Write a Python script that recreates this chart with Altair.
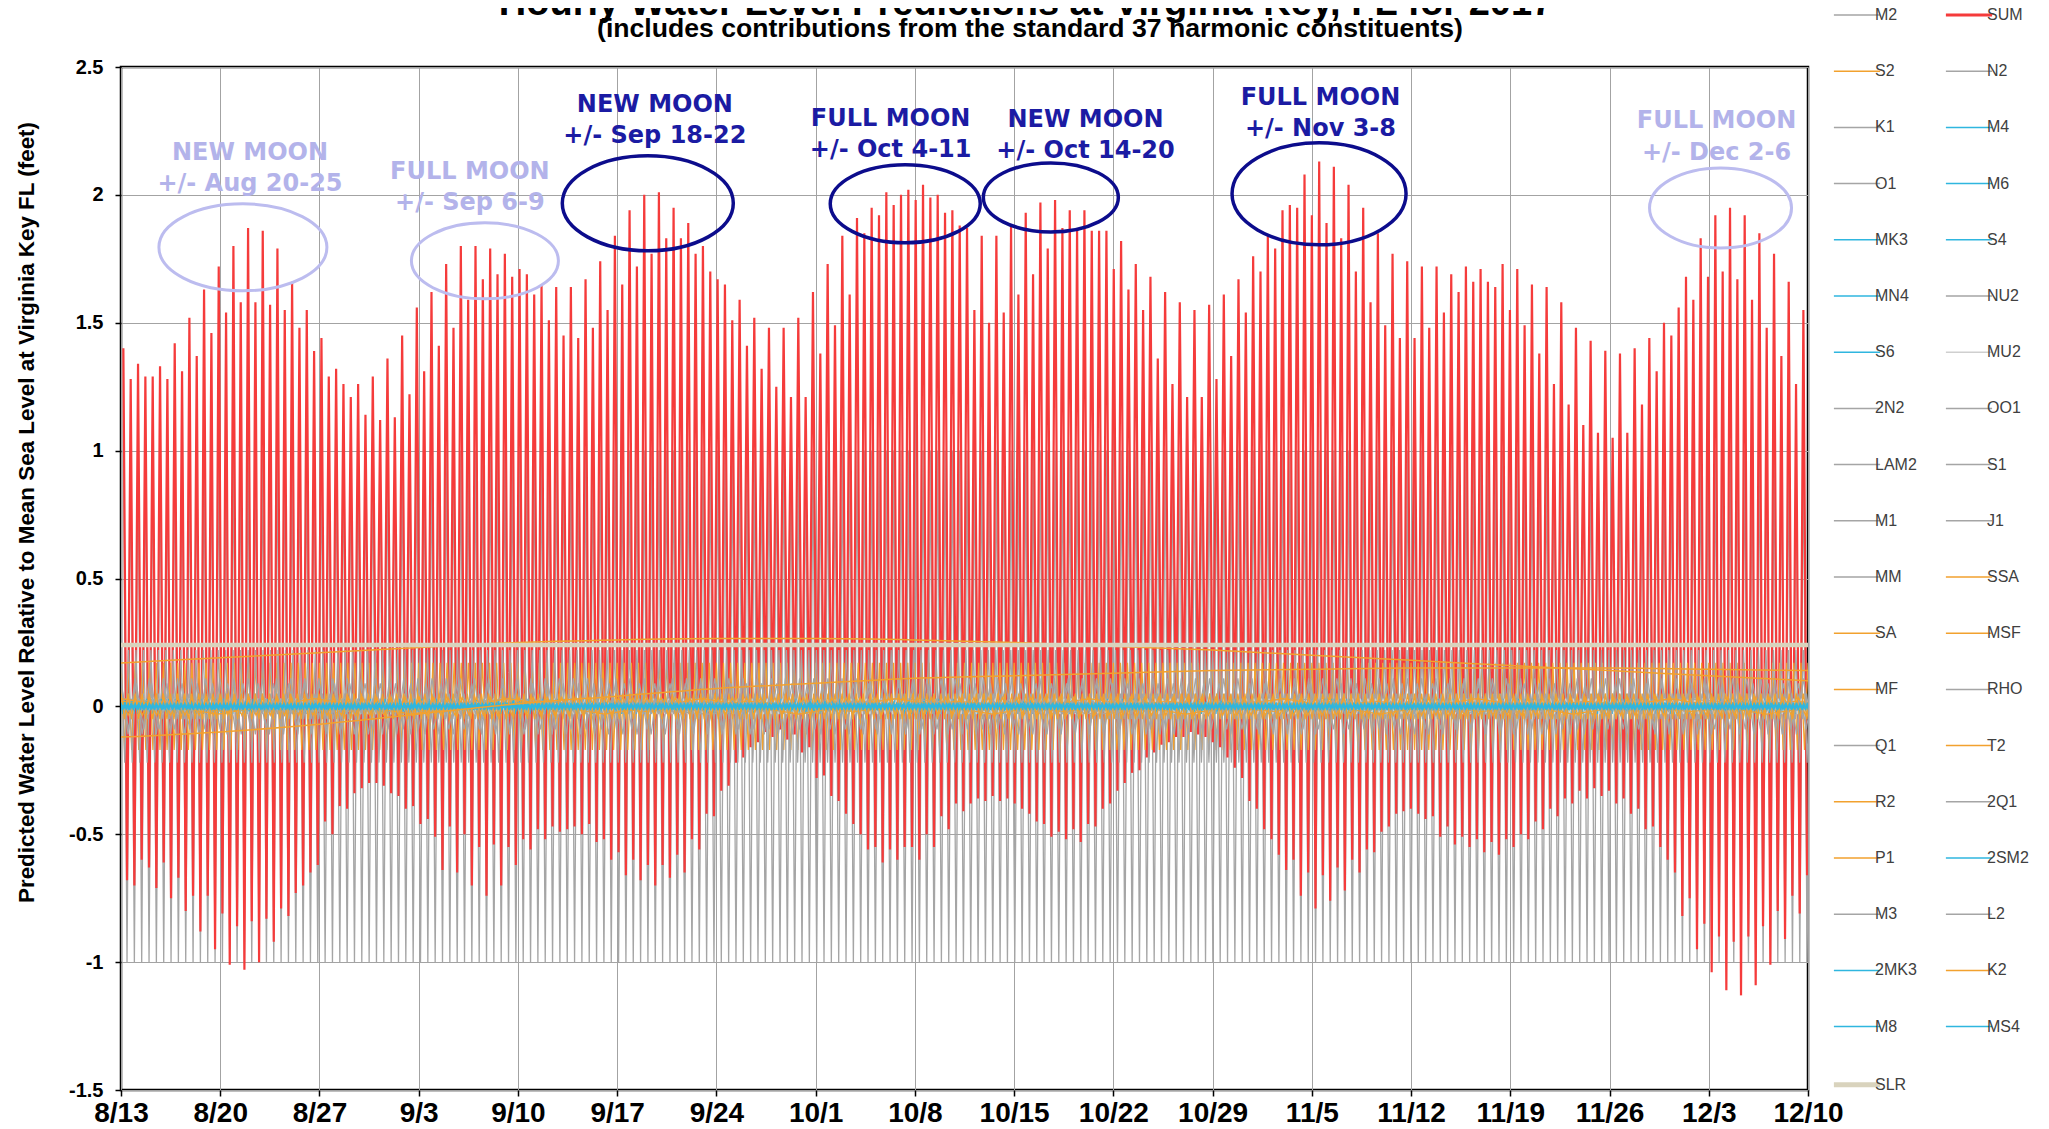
import altair as alt
import pandas as pd

# ---------------------------------------------------------------- data
SERIES = ["M2", "SUM", "S2", "N2", "K1", "M4", "O1", "M6", "MK3", "S4", "MN4", "NU2",
          "S6", "MU2", "2N2", "OO1", "LAM2", "S1", "M1", "J1", "MM", "SSA", "SA", "MSF",
          "MF", "RHO", "Q1", "T2", "R2", "2Q1", "P1", "2SM2", "M3", "L2", "2MK3", "K2",
          "M8", "MS4", "SLR"]

# predicted total (SUM): successive high waters (ft), one per tidal cycle, 8/13 -> 12/10
SUM_HIGHS = [
    1.40, 1.28, 1.34, 1.29, 1.29, 1.33, 1.28, 1.42, 1.31, 1.52,
    1.37, 1.63, 1.46, 1.72, 1.54, 1.80, 1.58, 1.87, 1.58, 1.86,
    1.57, 1.79, 1.55, 1.66, 1.48, 1.55, 1.39, 1.44, 1.29, 1.32,
    1.26, 1.21, 1.26, 1.14, 1.29, 1.12, 1.36, 1.13, 1.45, 1.22,
    1.56, 1.31, 1.62, 1.41, 1.73, 1.48, 1.80, 1.59, 1.80, 1.67,
    1.79, 1.69, 1.77, 1.68, 1.71, 1.69, 1.61, 1.65, 1.51, 1.64,
    1.45, 1.64, 1.44, 1.67, 1.48, 1.74, 1.55, 1.84, 1.65, 1.94,
    1.72, 2.00, 1.77, 2.01, 1.83, 1.95, 1.83, 1.89, 1.77, 1.80,
    1.70, 1.67, 1.65, 1.51, 1.59, 1.41, 1.52, 1.32, 1.48, 1.25,
    1.48, 1.21, 1.52, 1.21, 1.62, 1.38, 1.73, 1.49, 1.84, 1.61,
    1.91, 1.85, 1.95, 1.92, 2.01, 1.96, 2.00, 2.02, 1.98, 2.04,
    1.99, 2.00, 1.93, 1.94, 1.88, 1.87, 1.55, 1.84, 1.50, 1.84,
    1.54, 1.88, 1.61, 1.93, 1.69, 1.97, 1.79, 1.98, 1.87, 1.94,
    1.87, 1.94, 1.86, 1.86, 1.86, 1.71, 1.82, 1.63, 1.73, 1.55,
    1.68, 1.36, 1.62, 1.26, 1.58, 1.21, 1.55, 1.21, 1.57, 1.28,
    1.61, 1.37, 1.67, 1.54, 1.76, 1.70, 1.84, 1.79, 1.94, 1.96,
    1.95, 2.08, 1.92, 2.13, 1.89, 2.11, 1.83, 2.04, 1.70, 1.95,
    1.58, 1.85, 1.49, 1.77, 1.44, 1.74, 1.44, 1.72, 1.48, 1.72,
    1.54, 1.69, 1.62, 1.72, 1.66, 1.71, 1.66, 1.64, 1.73, 1.55,
    1.71, 1.49, 1.65, 1.38, 1.64, 1.26, 1.58, 1.18, 1.48, 1.10,
    1.43, 1.07, 1.39, 1.05, 1.38, 1.07, 1.40, 1.18, 1.44, 1.31,
    1.50, 1.45, 1.56, 1.68, 1.59, 1.83, 1.68, 1.92, 1.70, 1.95,
    1.67, 1.92, 1.59, 1.85, 1.48, 1.77, 1.37, 1.66, 1.26, 1.55,
]
# predicted total (SUM): successive low waters (ft)
SUM_LOWS = [
    -0.68, -0.70, -0.60, -0.63, -0.71, -0.61, -0.75, -0.67, -0.80, -0.74,
    -0.88, -0.74, -0.95, -0.81, -1.01, -0.86, -1.03, -0.84, -1.00, -0.83,
    -0.92, -0.79, -0.82, -0.73, -0.70, -0.65, -0.62, -0.45, -0.50, -0.39,
    -0.40, -0.34, -0.32, -0.30, -0.30, -0.31, -0.34, -0.35, -0.40, -0.39,
    -0.46, -0.44, -0.51, -0.64, -0.47, -0.65, -0.50, -0.70, -0.55, -0.74,
    -0.54, -0.70, -0.55, -0.62, -0.52, -0.56, -0.48, -0.52, -0.47, -0.49,
    -0.48, -0.47, -0.50, -0.46, -0.53, -0.52, -0.60, -0.57, -0.66, -0.60,
    -0.68, -0.62, -0.70, -0.62, -0.67, -0.58, -0.65, -0.52, -0.56, -0.42,
    -0.43, -0.33, -0.31, -0.22, -0.20, -0.16, -0.14, -0.10, -0.12, -0.09,
    -0.13, -0.11, -0.18, -0.16, -0.28, -0.27, -0.35, -0.37, -0.42, -0.46,
    -0.50, -0.56, -0.55, -0.61, -0.56, -0.60, -0.55, -0.55, -0.60, -0.50,
    -0.55, -0.43, -0.48, -0.38, -0.41, -0.38, -0.36, -0.37, -0.35, -0.37,
    -0.36, -0.38, -0.40, -0.42, -0.45, -0.46, -0.51, -0.49, -0.52, -0.48,
    -0.53, -0.46, -0.47, -0.40, -0.38, -0.33, -0.30, -0.26, -0.25, -0.20,
    -0.18, -0.15, -0.14, -0.12, -0.12, -0.10, -0.11, -0.12, -0.14, -0.16,
    -0.20, -0.24, -0.28, -0.37, -0.40, -0.48, -0.52, -0.58, -0.64, -0.60,
    -0.74, -0.65, -0.79, -0.66, -0.76, -0.63, -0.72, -0.60, -0.65, -0.56,
    -0.57, -0.49, -0.47, -0.42, -0.41, -0.40, -0.42, -0.44, -0.43, -0.51,
    -0.47, -0.54, -0.51, -0.55, -0.52, -0.57, -0.53, -0.58, -0.52, -0.55,
    -0.50, -0.52, -0.45, -0.48, -0.40, -0.43, -0.36, -0.38, -0.33, -0.36,
    -0.32, -0.35, -0.33, -0.38, -0.36, -0.42, -0.40, -0.48, -0.47, -0.55,
    -0.60, -0.65, -0.82, -0.75, -0.95, -0.85, -1.04, -0.90, -1.11, -0.92,
    -1.13, -0.90, -1.09, -0.86, -1.01, -0.80, -0.91, -0.74, -0.81, -0.66,
]
SUM_FIRST_HIGH_H = 4.0      # hours after 8/13 00:00
TIDE_PERIOD_H = 12.42

# oscillating constituents: amplitude (ft), period (hours)
OSC_NAMES = ["M2", "S2", "N2", "K1", "M4", "O1", "M6", "MK3", "S4", "MN4", "NU2", "S6",
             "MU2", "2N2", "OO1", "LAM2", "S1", "M1", "J1", "MM", "MSF", "MF", "RHO",
             "Q1", "T2", "R2", "2Q1", "P1", "2SM2", "M3", "L2", "2MK3", "K2", "M8", "MS4"]
OSC_AMP = [1.00, 0.17, 0.22, 0.11, 0.03, 0.09, 0.02, 0.01, 0.01, 0.012, 0.05, 0.005,
           0.03, 0.03, 0.005, 0.01, 0.01, 0.006, 0.007, 0.03, 0.02, 0.03, 0.004,
           0.02, 0.01, 0.003, 0.003, 0.035, 0.006, 0.006, 0.02, 0.01, 0.05, 0.004, 0.015]
OSC_PERIOD_H = [12.4206, 12.0, 12.6583, 23.9345, 6.2103, 25.8193, 4.1402, 8.1771, 6.0,
                6.2692, 12.6260, 4.0, 12.8718, 12.9054, 22.3061, 12.2218, 24.0, 24.8412,
                23.0985, 661.31, 354.37, 327.86, 26.7231, 26.8684, 12.0164, 11.9836,
                28.0062, 24.0659, 11.6070, 8.2804, 12.1916, 8.3863, 11.9672, 3.1052, 5.9975]

# slow seasonal terms read weekly (8/13, 8/20, ..., 12/10)
SA_WEEKLY = [0.17, 0.19, 0.21, 0.23, 0.25, 0.26, 0.265, 0.265, 0.26, 0.25, 0.235,
             0.22, 0.20, 0.18, 0.16, 0.14, 0.12, 0.10]
SSA_WEEKLY = [-0.12, -0.10, -0.07, -0.03, 0.01, 0.04, 0.07, 0.09, 0.11, 0.12, 0.13,
              0.14, 0.145, 0.15, 0.15, 0.15, 0.145, 0.14]
SLR_LEVEL = 0.24

TICK_LABELS = ["8/13", "8/20", "8/27", "9/3", "9/10", "9/17", "9/24", "10/1", "10/8",
               "10/15", "10/22", "10/29", "11/5", "11/12", "11/19", "11/26", "12/3", "12/10"]
Y_TICKS = [-1.5, -1, -0.5, 0, 0.5, 1, 1.5, 2, 2.5]

# moon annotations
MOON_LINE1 = ["NEW MOON", "FULL MOON", "NEW MOON", "FULL MOON", "NEW MOON", "FULL MOON", "FULL MOON"]
MOON_LINE2 = ["+/- Aug 20-25", "+/- Sep 6-9", "+/- Sep 18-22", "+/- Oct 4-11",
              "+/- Oct 14-20", "+/- Nov 3-8", "+/- Dec 2-6"]
MOON_TONE = ["light", "light", "dark", "dark", "dark", "dark", "light"]
MOON_TEXT_DAY = [9.10, 24.61, 37.66, 54.29, 68.04, 84.61, 112.55]
MOON_TEXT_L1 = [2.162, 2.091, 2.352, 2.296, 2.292, 2.378, 2.287]
MOON_TEXT_L2 = [2.044, 1.970, 2.230, 2.175, 2.172, 2.259, 2.165]
MOON_RING_DAY = [8.60, 25.67, 37.16, 55.32, 65.59, 84.51, 112.83]
MOON_RING_LEVEL = [1.795, 1.742, 1.967, 1.965, 1.990, 2.004, 1.949]

TITLE = "Hourly Water Level Predictions at Virginia Key, FL for 2017"
SUBTITLE = "(includes contributions from the standard 37 harmonic constituents)"
Y_TITLE = "Predicted Water Level Relative to Mean Sea Level at Virginia Key FL (feet)"

# ---------------------------------------------------------------- styles
GRAY, LGRAY, ORANGE, CYAN, RED, SLRC = "#a5a5a5", "#cfcfcf", "#f2a12e", "#2fb6df", "#f53b3b", "#d9d3bd"
ORANGE_SET = {"S2", "SSA", "SA", "MSF", "MF", "T2", "R2", "P1", "K2"}
CYAN_SET = {"M4", "M6", "MK3", "S4", "MN4", "S6", "2SM2", "2MK3", "M8", "MS4"}


def colour(s):
    if s == "SUM":
        return RED
    if s == "SLR":
        return SLRC
    if s == "MU2":
        return LGRAY
    if s in ORANGE_SET:
        return ORANGE
    if s in CYAN_SET:
        return CYAN
    return GRAY


# the legend fills column by column: take the row-wise reference order and transpose it
LEGEND_ORDER = SERIES[0::2] + SERIES[1::2]

RING_PX = [(168, 87), (147, 76), (171, 95), (150, 78), (135, 69), (174, 102), (142, 80)]
RING_REF = 180.0
DARK_BLUE, DARK_RING, LIGHT_BLUE, LIGHT_RING = "#1b1ba3", "#0c0c8c", "#b3b3ea", "#bcbcef"
FONT = "Liberation Sans"
NARROW = "Liberation Sans Narrow, Arial Narrow, Liberation Sans, sans-serif"

# ---------------------------------------------------------------- build tables
HOUR_MS = 3_600_000
START_MS = int(pd.Timestamp("2017-08-13", tz="UTC").timestamp() * 1000)
SPAN_H = 119 * 24


def t_ms(h):
    return START_MS + int(round(h * HOUR_MS))


sum_rows = []
for i, (hi, lo) in enumerate(zip(SUM_HIGHS, SUM_LOWS)):
    sum_rows.append({"t": t_ms(SUM_FIRST_HIGH_H + i * TIDE_PERIOD_H), "v": hi, "series": "SUM"})
    sum_rows.append({"t": t_ms(SUM_FIRST_HIGH_H + (i + 0.5) * TIDE_PERIOD_H), "v": lo, "series": "SUM"})
sum_df = pd.DataFrame(sum_rows)


def turning_points(name, amp, period_h, first_h):
    rows, k = [], 0
    while True:
        h = first_h + k * period_h / 2.0
        rows.append({"t": t_ms(h), "v": round(amp if k % 2 == 0 else -amp, 4), "series": name})
        if h > SPAN_H:
            break
        k += 1
    return rows


m2_rows, osc_rows = [], []
for name, amp, per in zip(OSC_NAMES, OSC_AMP, OSC_PERIOD_H):
    if name == "M2":
        m2_rows = turning_points(name, amp, per, SUM_FIRST_HIGH_H)
    else:
        osc_rows += turning_points(name, amp, per, 0.0)
m2_df = pd.DataFrame(m2_rows)
osc_df = pd.DataFrame(osc_rows)

slow_rows = []
for k, (sa, ssa) in enumerate(zip(SA_WEEKLY, SSA_WEEKLY)):
    slow_rows.append({"t": t_ms(k * 7 * 24), "v": sa, "series": "SA"})
    slow_rows.append({"t": t_ms(k * 7 * 24), "v": ssa, "series": "SSA"})
slow_df = pd.DataFrame(slow_rows)

slr_df = pd.DataFrame({"t": [t_ms(0), t_ms(SPAN_H)], "v": [SLR_LEVEL, SLR_LEVEL], "series": ["SLR", "SLR"]})

text_rows, ring_rows = [], []
for i in range(len(MOON_LINE1)):
    td = t_ms(MOON_TEXT_DAY[i] * 24)
    text_rows.append({"t": td, "v": MOON_TEXT_L1[i], "label": MOON_LINE1[i], "tone": MOON_TONE[i]})
    text_rows.append({"t": td, "v": MOON_TEXT_L2[i], "label": MOON_LINE2[i], "tone": MOON_TONE[i]})
    ring_rows.append({"t": t_ms(MOON_RING_DAY[i] * 24), "v": MOON_RING_LEVEL[i], "ring": f"r{i}", "tone": MOON_TONE[i]})
text_df = pd.DataFrame(text_rows)
ring_df = pd.DataFrame(ring_rows)


def ellipse_path(w, h):
    a, b, k = w / RING_REF, h / RING_REF, 0.5523
    return (f"M{a:.4f},0 C{a:.4f},{k*b:.4f} {k*a:.4f},{b:.4f} 0,{b:.4f} "
            f"C{-k*a:.4f},{b:.4f} {-a:.4f},{k*b:.4f} {-a:.4f},0 "
            f"C{-a:.4f},{-k*b:.4f} {-k*a:.4f},{-b:.4f} 0,{-b:.4f} "
            f"C{k*a:.4f},{-b:.4f} {a:.4f},{-k*b:.4f} {a:.4f},0 Z")


RING_IDS = [f"r{i}" for i in range(len(RING_PX))]
RING_PATHS = [ellipse_path(w, h) for w, h in RING_PX]

# ---------------------------------------------------------------- encodings
W, H = 1687, 1023
x_enc = alt.X("t:T",
              scale=alt.Scale(type="utc", domain=[t_ms(0), t_ms(SPAN_H)], nice=False),
              axis=alt.Axis(values=[t_ms(7 * 24 * k) for k in range(len(TICK_LABELS))],
                            format="%-m/%-d", title=None, grid=True, gridColor="#a3a3a3",
                            gridWidth=1, domain=False, tickColor="black", tickSize=6,
                            tickWidth=1.5, labelFont=NARROW, labelFontSize=28,
                            labelFontWeight="bold", labelColor="black", labelPadding=3,
                            labelFlush=False, labelOverlap=False, labelBaseline="top"))
y_enc = alt.Y("v:Q",
              scale=alt.Scale(domain=[-1.5, 2.5], nice=False, zero=False),
              axis=alt.Axis(values=Y_TICKS, labelExpr="'' + datum.value", title=Y_TITLE,
                            titleFont=FONT, titleFontSize=22.4, titleFontWeight="bold",
                            titleColor="black", titleAngle=270, titleX=-95, titleY=445,
                            titleAlign="center", titleBaseline="middle",
                            grid=True, gridColor="#a3a3a3", gridWidth=1, domain=False,
                            tickColor="black", tickSize=6, tickWidth=1.5,
                            labelFont=FONT, labelFontSize=20, labelFontWeight="bold",
                            labelColor="black", labelPadding=12))

LEGEND = alt.Legend(title=None, orient="none", legendX=1728, legendY=-60, columns=2,
                    symbolType="stroke", symbolSize=2135, symbolLimit=60,
                    symbolStrokeWidth=alt.ExprRef(expr="datum.value == 'SUM' ? 3 : (datum.value == 'SLR' ? 5 : 1.5)"),
                    labelFont=FONT, labelFontSize=16, labelColor="#404040", labelOffset=10,
                    rowPadding=40.2, columnPadding=22, padding=0, offset=0)
color_enc = alt.Color("series:N",
                      scale=alt.Scale(domain=LEGEND_ORDER, range=[colour(s) for s in LEGEND_ORDER]),
                      legend=LEGEND)

m2_layer = alt.Chart(m2_df).mark_line(strokeWidth=1.3, clip=True).encode(x=x_enc, y=y_enc, color=color_enc)
sum_layer = alt.Chart(sum_df).mark_line(strokeWidth=2.2, clip=True).encode(x=x_enc, y=y_enc, color=color_enc)
osc_layer = alt.Chart(osc_df).mark_line(strokeWidth=1.2, clip=True).encode(x=x_enc, y=y_enc, color=color_enc, detail="series:N")
slow_layer = alt.Chart(slow_df).mark_line(strokeWidth=1.5, clip=True, interpolate="monotone").encode(x=x_enc, y=y_enc, color=color_enc)
slr_layer = alt.Chart(slr_df).mark_line(strokeWidth=4.5, clip=True).encode(x=x_enc, y=y_enc, color=color_enc)

shape_enc = alt.Shape("ring:N", scale=alt.Scale(domain=RING_IDS, range=RING_PATHS), legend=None)
ring_dark = alt.Chart(ring_df).transform_filter("datum.tone == 'dark'").mark_point(
    filled=False, stroke=DARK_RING, strokeWidth=3.5, size=RING_REF ** 2, opacity=1
).encode(x="t:T", y="v:Q", shape=shape_enc)
ring_light = alt.Chart(ring_df).transform_filter("datum.tone == 'light'").mark_point(
    filled=False, stroke=LIGHT_RING, strokeWidth=3, size=RING_REF ** 2, opacity=1
).encode(x="t:T", y="v:Q", shape=shape_enc)

text_dark = alt.Chart(text_df).transform_filter("datum.tone == 'dark'").mark_text(
    font="DejaVu Sans", fontSize=24, fontWeight="bold", color=DARK_BLUE, align="center", baseline="middle"
).encode(x="t:T", y="v:Q", text="label:N")
text_light = alt.Chart(text_df).transform_filter("datum.tone == 'light'").mark_text(
    font="DejaVu Sans", fontSize=24, fontWeight="bold", color=LIGHT_BLUE, align="center", baseline="middle"
).encode(x="t:T", y="v:Q", text="label:N")

title_layer = alt.Chart(alt.Data(values=[{"label": TITLE}])).mark_text(
    font=NARROW, fontSize=38, fontWeight="bold", color="black", align="center", baseline="alphabetic"
).encode(x=alt.value(905), y=alt.value(-52), text="label:N")
subtitle_layer = alt.Chart(alt.Data(values=[{"label": SUBTITLE}])).mark_text(
    font=NARROW, fontSize=26.6, fontWeight="bold", color="black", align="center", baseline="middle"
).encode(x=alt.value(909), y=alt.value(-38), text="label:N")

chart = alt.layer(
    m2_layer, sum_layer, osc_layer, slow_layer, slr_layer,
    ring_dark, ring_light, text_dark, text_light, title_layer, subtitle_layer
).properties(
    width=W, height=H,
    autosize=alt.AutoSizeParams(type="none"),
    padding={"left": 113, "top": 59, "right": 226, "bottom": 38},
    background="white",
).configure_view(stroke="black", strokeWidth=2.5)

chart.save("out.html", embed_options={"renderer": "svg", "actions": False})
